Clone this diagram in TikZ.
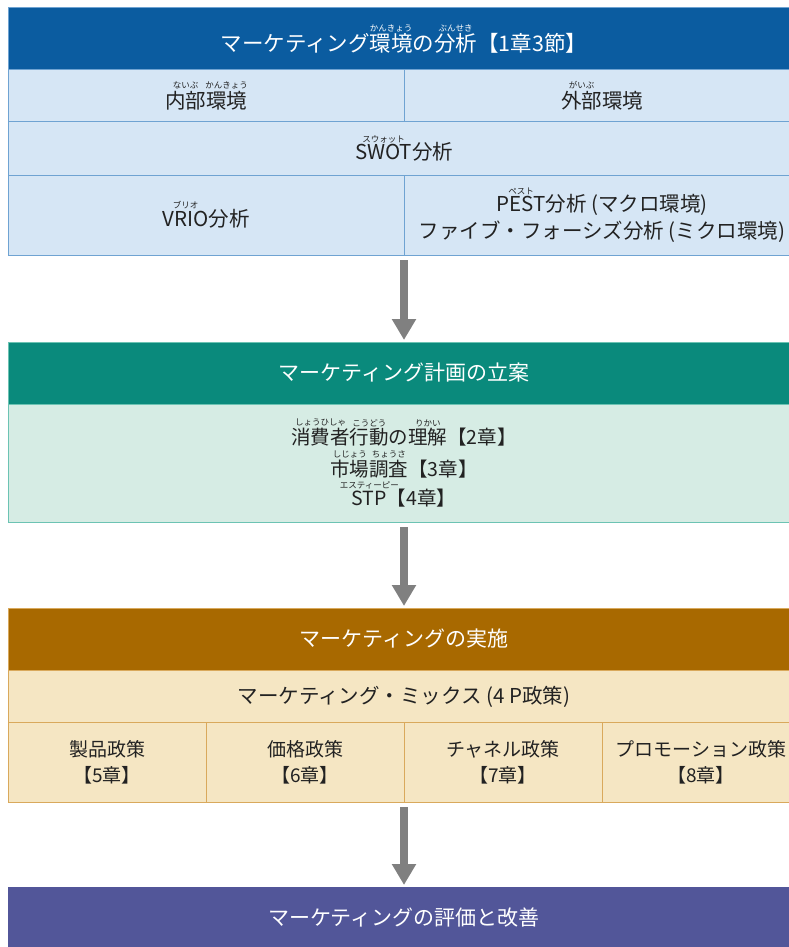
\documentclass[tikz,border=0pt]{standalone}
\usepackage{fontspec}
\setmainfont{Noto Sans CJK JP}
\usetikzlibrary{arrows.meta, positioning}

\definecolor{envdark}{HTML}{0B5CA0}
\definecolor{envlight}{HTML}{D6E6F5}
\definecolor{envline}{HTML}{6FA3D2}
\definecolor{plandark}{HTML}{0A8A7C}
\definecolor{planlight}{HTML}{D6ECE4}
\definecolor{planline}{HTML}{6CC3B3}
\definecolor{impldark}{HTML}{A86900}
\definecolor{impllight}{HTML}{F5E6C3}
\definecolor{implline}{HTML}{D9A95C}
\definecolor{evaldark}{HTML}{525699}
\definecolor{arrowgray}{HTML}{808080}
\definecolor{textdark}{HTML}{222222}

% small kana set above a word
\newcommand{\rubyfont}{\fontsize{8.5}{9}\selectfont}
\newcommand{\furi}[2]{\leavevmode\setbox0\hbox{#1}%
  \vbox{\offinterlineskip\hbox to\wd0{\hss\rubyfont #2\hss}\kern2pt\box0}}

\begin{document}
\begin{tikzpicture}[x=1pt, y=-1pt,
  cell/.style={draw, line width=1pt, inner sep=0pt, outer sep=0pt, anchor=north west,
    align=center, text=textdark, font=\fontsize{20.5}{27}\selectfont},
  head/.style={cell, text=white, minimum width=792pt, minimum height=62pt,
    font=\fontsize{21}{25}\selectfont},
  env/.style={cell, fill=envlight, draw=envline},
  impl/.style={cell, fill=impllight, draw=implline},
  flow/.style={draw=arrowgray, line width=8pt, -{Triangle[width=23pt,length=21pt]},
    shorten <=5pt, shorten >=2pt}]
\useasboundingbox (0,0) rectangle (789,947);

% Environment analysis
\node[head, fill=envdark, draw=envline, font=\fontsize{21.5}{25}\selectfont] (envhead) at (8,8)
  {マーケティング\furi{環境}{かんきょう}の\furi{分析}{ぶんせき}【1章3節】};
\node[env, minimum width=396pt, minimum height=52pt] (inner) at (envhead.south west)
  {\furi{内部}{ないぶ}\furi{環境}{かんきょう}};
\node[env, minimum width=396pt, minimum height=52pt] (outer) at (inner.north east)
  {\furi{外部}{がいぶ}環境};
\node[env, minimum width=792pt, minimum height=53pt] (swot) at (inner.south west)
  {\furi{SWOT}{スウォット}分析};
\node[env, minimum width=396pt, minimum height=80pt] (vrio) at (swot.south west)
  {\furi{VRIO}{ブリオ}分析};
\node[env, minimum width=396pt, minimum height=80pt] (pest) at (vrio.north east)
  {\furi{PEST}{ペスト}分析 (マクロ環境)\\ファイブ・フォーシズ分析 (ミクロ環境)};

% Planning
\node[head, fill=plandark, draw=planline] (planhead) at (8,342) {マーケティング計画の立案};
\node[cell, fill=planlight, draw=planline, minimum width=792pt, minimum height=118pt,
  font=\fontsize{19.5}{26}\selectfont] (study) at (planhead.south west)
  {\furi{消費者}{しょうひしゃ}\furi{行動}{こうどう}の\furi{理解}{りかい}【2章】\\[3pt]
   \furi{市場}{しじょう}\furi{調査}{ちょうさ}【3章】\\[3pt]
   \furi{STP}{エスティーピー}【4章】};

% Implementation
\node[head, fill=impldark, draw=implline] (implhead) at (8,608) {マーケティングの実施};
\node[impl, minimum width=792pt, minimum height=53pt] (mix) at (implhead.south west)
  {マーケティング・ミックス (4 P政策)};
\foreach \nm/\pol/\ch [count=\i from 0] in
  {prod/製品政策/5, price/価格政策/6, chan/チャネル政策/7, promo/プロモーション政策/8}
  \node[impl, minimum width=198pt, minimum height=80pt, font=\fontsize{19}{26}\selectfont]
    (\nm) at (8+198*\i,722) {\pol\\【\ch 章】};

% Evaluation
\node[head, fill=evaldark, draw=evaldark] (evalhead) at (8,887) {マーケティングの評価と改善};

% Flow arrows
\draw[flow] (vrio.south east) -- (planhead.north);
\draw[flow] (study.south) -- (implhead.north);
\draw[flow] (price.south east) -- (evalhead.north);
\end{tikzpicture}
\end{document}
